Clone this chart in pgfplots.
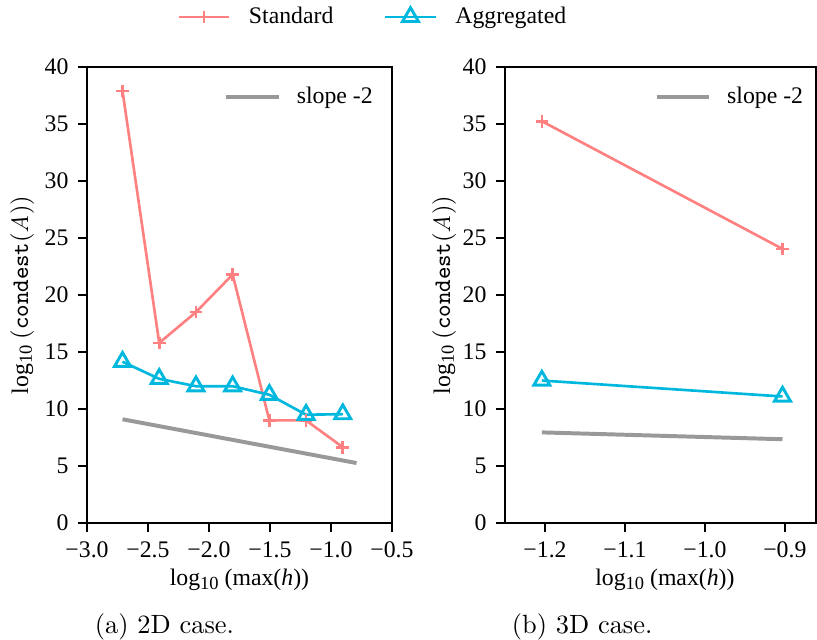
\documentclass[border=0pt]{standalone}
\usepackage{pgfplots}
\pgfplotsset{compat=1.18}
\usepackage{fontspec}
\newfontfamily\tnr{Liberation Serif}
\definecolor{stdc}{RGB}{255,128,128}
\definecolor{aggc}{RGB}{0,183,221}
\definecolor{slc}{RGB}{153,153,153}
\newcommand{\tf}{\tnr\fontsize{9}{10.8}\selectfont}
\newcommand{\lten}{log\raisebox{-0.35ex}{\fontsize{7}{8}\selectfont 10}}
\pgfplotsset{
  base/.style={scale only axis, height=172.7pt, ymin=0, ymax=40, ytick={0,5,...,40},
    tick align=outside, major tick length=3.5pt, xtick pos=left, ytick pos=left,
    axis line style={line width=0.8pt}, every tick/.style={black, line width=0.8pt},
    tick label style={font=\tf}, /pgf/number format/assume math mode=true,
    label style={font=\tf}, clip=false,
    legend style={draw=none, fill=none, font=\tf, inner sep=0pt,
      /tikz/every odd column/.append style={column sep=4pt}},
    anchor=south west,
    legend image code/.code={\draw[line width=1.5pt] (0pt,0pt)--(20pt,0pt);}},
  stds/.style={stdc, line width=1pt, mark=+, mark size=2.4pt, mark options={line width=1pt}},
  aggs/.style={aggc, line width=1pt, mark=triangle, mark size=3.5pt, mark options={line width=1.1pt}},
  slps/.style={slc, line width=1.5pt},
}
\begin{document}
\begin{tikzpicture}
\path[use as bounding box] (-32.96pt,-43.94pt) rectangle (276.5pt,198.1pt);
\begin{axis}[base, at={(0,0)}, width=115.5pt, xmin=-3, xmax=-0.5,
  xtick={-3,-2.5,-2,-1.5,-1,-0.5}, xticklabels={−3.0,−2.5,−2.0,−1.5,−1.0,−0.5},
  xlabel={\lten\ (max(\textit{h}))},
  ylabel={\lten\ {\rmfamily(\texttt{condest}(\textit{A}))}},
  ylabel style={at={(axis description cs:-0.213,0.5)}, anchor=center},
  xlabel style={at={(axis description cs:0.5,-0.125)}, anchor=center},
  legend style={at={(axis description cs:0.956,0.934)}, anchor=east}]
\addplot[slps] coordinates {(-2.709,9.1) (-0.79,5.26)};
\addlegendentry{slope -2}
\addplot[stds] coordinates {(-2.709,37.9) (-2.408,15.8) (-2.107,18.5) (-1.806,21.8) (-1.505,9.0) (-1.204,9.0) (-0.903,6.65)};
\addplot[aggs] coordinates {(-2.709,14.15) (-2.408,12.65) (-2.107,12.0) (-1.806,12.0) (-1.505,11.25) (-1.204,9.5) (-0.903,9.55)};
\node[font=\rmfamily\fontsize{10}{12}\selectfont] at (axis description cs:0.254,-0.228) {(a) 2D case.};
\end{axis}
\begin{axis}[base, at={(158.34pt,0)}, width=117.8pt, xmin=-1.25, xmax=-0.861,
  xtick={-1.2,-1.1,-1.0,-0.9}, xticklabels={−1.2,−1.1,−1.0,−0.9},
  xlabel={\lten\ (max(\textit{h}))},
  ylabel={\lten\ {\rmfamily(\texttt{condest}(\textit{A}))}},
  ylabel style={at={(axis description cs:-0.196,0.5)}, anchor=center},
  xlabel style={at={(axis description cs:0.514,-0.125)}, anchor=center},
  legend style={at={(axis description cs:0.977,0.934)}, anchor=east}]
\addplot[slps] coordinates {(-1.204,7.95) (-0.903,7.35)};
\addlegendentry{slope -2}
\addplot[stds] coordinates {(-1.204,35.25) (-0.903,24.05)};
\addplot[aggs] coordinates {(-1.204,12.5) (-0.903,11.1)};
\node[font=\rmfamily\fontsize{10}{12}\selectfont] at (axis description cs:0.248,-0.228) {(b) 3D case.};
\end{axis}
\begin{axis}[at={(0,0)}, anchor=south west, scale only axis, width=115.5pt, height=172.7pt,
  hide axis, xmin=0, xmax=1, ymin=0, ymax=1, legend columns=2,
  legend style={draw=none, fill=none, font=\tf, inner sep=0pt,
    at={(axis description cs:0.943,1.110)}, anchor=center,
    /tikz/every odd column/.append style={column sep=5pt},
    /tikz/every even column/.append style={column sep=17.2pt}},
  legend image code/.code={\draw[mark repeat=2, mark phase=2] plot coordinates {(0pt,0pt)(9.5pt,0pt)(19pt,0pt)};}]
\addlegendimage{stds}
\addlegendentry{Standard}
\addlegendimage{aggs}
\addlegendentry{Aggregated}
\end{axis}
\end{tikzpicture}
\end{document}
